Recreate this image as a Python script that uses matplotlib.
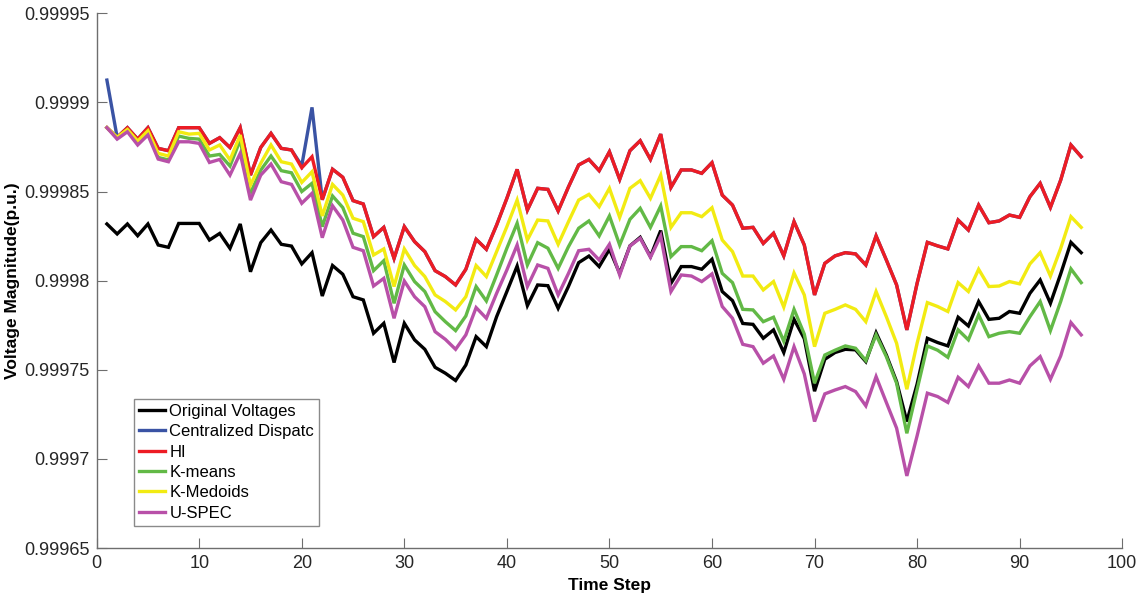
import numpy as np
import matplotlib
matplotlib.use("Agg")
import matplotlib.pyplot as plt

plt.rcParams['font.family'] = ['Liberation Sans', 'DejaVu Sans']

time_step = np.arange(1, 97)

original = [0.9998318, 0.9998262, 0.9998318, 0.9998252, 0.9998318, 0.9998200, 0.9998187, 0.9998321, 0.9998321, 0.9998321,
            0.9998228, 0.9998265, 0.9998181, 0.9998318, 0.9998050, 0.9998213, 0.9998284, 0.9998204, 0.9998194, 0.9998094,
            0.9998157, 0.9997914, 0.9998085, 0.9998036, 0.9997910, 0.9997892, 0.9997705, 0.9997761, 0.9997541, 0.9997761,
            0.9997668, 0.9997615, 0.9997514, 0.9997481, 0.9997440, 0.9997527, 0.9997686, 0.9997630, 0.9997798, 0.9997939,
            0.9998082, 0.9997860, 0.9997976, 0.9997972, 0.9997845, 0.9997967, 0.9998101, 0.9998138, 0.9998079, 0.9998176,
            0.9998041, 0.9998195, 0.9998243, 0.9998135, 0.9998281, 0.9997985, 0.9998079, 0.9998079, 0.9998064, 0.9998120,
            0.9997939, 0.9997888, 0.9997760, 0.9997755, 0.9997677, 0.9997724, 0.9997597, 0.9997783, 0.9997675, 0.9997380,
            0.9997559, 0.9997597, 0.9997615, 0.9997612, 0.9997546, 0.9997708, 0.9997583, 0.9997434, 0.9997210, 0.9997420,
            0.9997677, 0.9997653, 0.9997634, 0.9997795, 0.9997746, 0.9997883, 0.9997783, 0.9997789, 0.9997827, 0.9997817,
            0.9997929, 0.9998004, 0.9997873, 0.9998038, 0.9998215, 0.9998157]

centralized = [0.9999125, 0.9998804, 0.9998858, 0.9998794, 0.9998858, 0.9998742, 0.9998729, 0.9998858, 0.9998858, 0.9998858,
               0.9998770, 0.9998802, 0.9998747, 0.9998858, 0.9998592, 0.9998747, 0.9998826, 0.9998742, 0.9998733, 0.9998645,
               0.9998972, 0.9998454, 0.9998625, 0.9998580, 0.9998449, 0.9998430, 0.9998247, 0.9998299, 0.9998125, 0.9998303,
               0.9998219, 0.9998163, 0.9998056, 0.9998023, 0.9997976, 0.9998064, 0.9998232, 0.9998176, 0.9998312, 0.9998462,
               0.9998624, 0.9998396, 0.9998518, 0.9998512, 0.9998391, 0.9998525, 0.9998649, 0.9998680, 0.9998617, 0.9998723,
               0.9998568, 0.9998729, 0.9998785, 0.9998680, 0.9998822, 0.9998523, 0.9998621, 0.9998621, 0.9998602, 0.9998662,
               0.9998480, 0.9998424, 0.9998294, 0.9998299, 0.9998209, 0.9998266, 0.9998139, 0.9998331, 0.9998200, 0.9997920,
               0.9998097, 0.9998139, 0.9998157, 0.9998150, 0.9998088, 0.9998251, 0.9998116, 0.9997976, 0.9997724, 0.9997985,
               0.9998215, 0.9998195, 0.9998178, 0.9998340, 0.9998284, 0.9998424, 0.9998325, 0.9998335, 0.9998368, 0.9998355,
               0.9998471, 0.9998546, 0.9998411, 0.9998564, 0.9998761, 0.9998695]

hi = [0.9998858, 0.9998804, 0.9998858, 0.9998794, 0.9998858, 0.9998742, 0.9998729, 0.9998858, 0.9998858, 0.9998858,
      0.9998770, 0.9998802, 0.9998747, 0.9998858, 0.9998592, 0.9998747, 0.9998826, 0.9998742, 0.9998733, 0.9998633,
      0.9998695, 0.9998454, 0.9998625, 0.9998580, 0.9998449, 0.9998430, 0.9998247, 0.9998299, 0.9998125, 0.9998303,
      0.9998219, 0.9998163, 0.9998056, 0.9998023, 0.9997976, 0.9998064, 0.9998232, 0.9998176, 0.9998312, 0.9998462,
      0.9998624, 0.9998396, 0.9998518, 0.9998512, 0.9998391, 0.9998525, 0.9998649, 0.9998680, 0.9998617, 0.9998723,
      0.9998568, 0.9998729, 0.9998785, 0.9998680, 0.9998822, 0.9998523, 0.9998621, 0.9998621, 0.9998602, 0.9998662,
      0.9998480, 0.9998424, 0.9998294, 0.9998299, 0.9998209, 0.9998266, 0.9998139, 0.9998331, 0.9998200, 0.9997920,
      0.9998097, 0.9998139, 0.9998157, 0.9998150, 0.9998088, 0.9998251, 0.9998116, 0.9997976, 0.9997724, 0.9997985,
      0.9998215, 0.9998195, 0.9998178, 0.9998340, 0.9998284, 0.9998424, 0.9998325, 0.9998335, 0.9998368, 0.9998355,
      0.9998471, 0.9998546, 0.9998411, 0.9998564, 0.9998761, 0.9998695]

kmeans = [0.9998858, 0.9998804, 0.9998845, 0.9998779, 0.9998830, 0.9998691, 0.9998677, 0.9998811, 0.9998798, 0.9998794,
          0.9998699, 0.9998708, 0.9998643, 0.9998789, 0.9998490, 0.9998620, 0.9998699, 0.9998617, 0.9998605, 0.9998500,
          0.9998546, 0.9998303, 0.9998475, 0.9998410, 0.9998266, 0.9998247, 0.9998056, 0.9998112, 0.9997873, 0.9998088,
          0.9997995, 0.9997939, 0.9997826, 0.9997770, 0.9997720, 0.9997802, 0.9997967, 0.9997886, 0.9998032, 0.9998182,
          0.9998322, 0.9998088, 0.9998213, 0.9998182, 0.9998069, 0.9998190, 0.9998294, 0.9998335, 0.9998251, 0.9998363,
          0.9998200, 0.9998344, 0.9998406, 0.9998299, 0.9998419, 0.9998135, 0.9998191, 0.9998191, 0.9998168, 0.9998224,
          0.9998041, 0.9997989, 0.9997839, 0.9997836, 0.9997770, 0.9997795, 0.9997660, 0.9997839, 0.9997700, 0.9997425,
          0.9997583, 0.9997610, 0.9997634, 0.9997621, 0.9997552, 0.9997696, 0.9997574, 0.9997425, 0.9997144, 0.9997390,
          0.9997634, 0.9997610, 0.9997570, 0.9997724, 0.9997668, 0.9997808, 0.9997686, 0.9997705, 0.9997714, 0.9997705,
          0.9997798, 0.9997883, 0.9997720, 0.9997883, 0.9998066, 0.9997989]

kmedoids = [0.9998858, 0.9998804, 0.9998848, 0.9998783, 0.9998841, 0.9998714, 0.9998699, 0.9998835, 0.9998822, 0.9998826,
            0.9998733, 0.9998761, 0.9998677, 0.9998817, 0.9998536, 0.9998658, 0.9998761, 0.9998667, 0.9998654, 0.9998551,
            0.9998611, 0.9998363, 0.9998540, 0.9998480, 0.9998350, 0.9998331, 0.9998144, 0.9998178, 0.9997967, 0.9998178,
            0.9998085, 0.9998023, 0.9997920, 0.9997883, 0.9997836, 0.9997910, 0.9998085, 0.9998023, 0.9998163, 0.9998303,
            0.9998452, 0.9998228, 0.9998340, 0.9998335, 0.9998204, 0.9998330, 0.9998452, 0.9998484, 0.9998415, 0.9998518,
            0.9998355, 0.9998518, 0.9998561, 0.9998462, 0.9998592, 0.9998299, 0.9998381, 0.9998381, 0.9998359, 0.9998409,
            0.9998228, 0.9998163, 0.9998026, 0.9998026, 0.9997948, 0.9997995, 0.9997852, 0.9998043, 0.9997920, 0.9997630,
            0.9997817, 0.9997839, 0.9997864, 0.9997839, 0.9997770, 0.9997939, 0.9997798, 0.9997649, 0.9997391, 0.9997649,
            0.9997877, 0.9997855, 0.9997827, 0.9997989, 0.9997939, 0.9998064, 0.9997967, 0.9997970, 0.9997995, 0.9997982,
            0.9998094, 0.9998157, 0.9998026, 0.9998181, 0.9998359, 0.9998299]

uspec = [0.9998858, 0.9998794, 0.9998835, 0.9998761, 0.9998817, 0.9998682, 0.9998667, 0.9998779, 0.9998779, 0.9998770,
         0.9998663, 0.9998680, 0.9998592, 0.9998714, 0.9998452, 0.9998592, 0.9998654, 0.9998555, 0.9998540, 0.9998434,
         0.9998490, 0.9998241, 0.9998420, 0.9998340, 0.9998187, 0.9998168, 0.9997970, 0.9998013, 0.9997789, 0.9997998,
         0.9997910, 0.9997854, 0.9997714, 0.9997671, 0.9997615, 0.9997696, 0.9997849, 0.9997789, 0.9997929, 0.9998060,
         0.9998200, 0.9997967, 0.9998088, 0.9998069, 0.9997920, 0.9998040, 0.9998168, 0.9998176, 0.9998116, 0.9998204,
         0.9998032, 0.9998195, 0.9998238, 0.9998131, 0.9998251, 0.9997939, 0.9998032, 0.9998026, 0.9997995, 0.9998038,
         0.9997855, 0.9997789, 0.9997643, 0.9997630, 0.9997537, 0.9997578, 0.9997447, 0.9997630, 0.9997477, 0.9997210,
         0.9997365, 0.9997387, 0.9997406, 0.9997378, 0.9997298, 0.9997462, 0.9997317, 0.9997173, 0.9996905, 0.9997130,
         0.9997369, 0.9997350, 0.9997317, 0.9997458, 0.9997406, 0.9997522, 0.9997425, 0.9997425, 0.9997443, 0.9997425,
         0.9997522, 0.9997574, 0.9997447, 0.9997578, 0.9997765, 0.9997696]

series_labels = ['Original Voltages', 'Centralized Dispatc', 'HI', 'K-means', 'K-Medoids', 'U-SPEC']
series_colors = ['#000000', '#3A53A4', '#ED1C24', '#62B946', '#F2EB12', '#B850A8']
series_data = [original, centralized, hi, kmeans, kmedoids, uspec]

x_ticks = [0, 10, 20, 30, 40, 50, 60, 70, 80, 90, 100]
y_ticks = [0.99965, 0.9997, 0.99975, 0.9998, 0.99985, 0.9999, 0.99995]
y_tick_labels = ['0.99965', '0.9997', '0.99975', '0.9998', '0.99985', '0.9999', '0.99995']

fig = plt.figure(figsize=(11.37, 6.01), dpi=100)
ax = fig.add_axes([0.085, 0.088, 0.902, 0.890])

for data, lab, col in zip(series_data, series_labels, series_colors):
    ax.plot(time_step, data, color=col, lw=2.4, label=lab, solid_joinstyle='miter')

ax.set_xlim(0, 100)
ax.set_ylim(0.99965, 0.99995)
ax.set_xticks(x_ticks)
ax.set_yticks(y_ticks)
ax.set_yticklabels(y_tick_labels)

for side in ['top', 'right']:
    ax.spines[side].set_visible(False)
for side in ['left', 'bottom']:
    ax.spines[side].set_color('#6e6e6e')
    ax.spines[side].set_linewidth(1.0)
ax.tick_params(direction='in', length=7, width=0.8, color='#6e6e6e', labelsize=13, labelcolor='#262626', pad=5)

ax.set_xlabel('Time Step', fontsize=12.5, fontweight='bold', labelpad=4)
ax.set_ylabel('Voltage Magnitude(p.u.)', fontsize=12.5, fontweight='bold', labelpad=3)

leg = ax.legend(loc='lower left', bbox_to_anchor=(0.036, 0.042), fontsize=12, frameon=True, fancybox=False,
                edgecolor='#8a8a8a', framealpha=1, handlelength=1.6, handletextpad=0.25, labelspacing=0.32,
                borderpad=0.3, borderaxespad=0)
leg.get_frame().set_linewidth(1.0)

fig.savefig('out.png', dpi=100)
